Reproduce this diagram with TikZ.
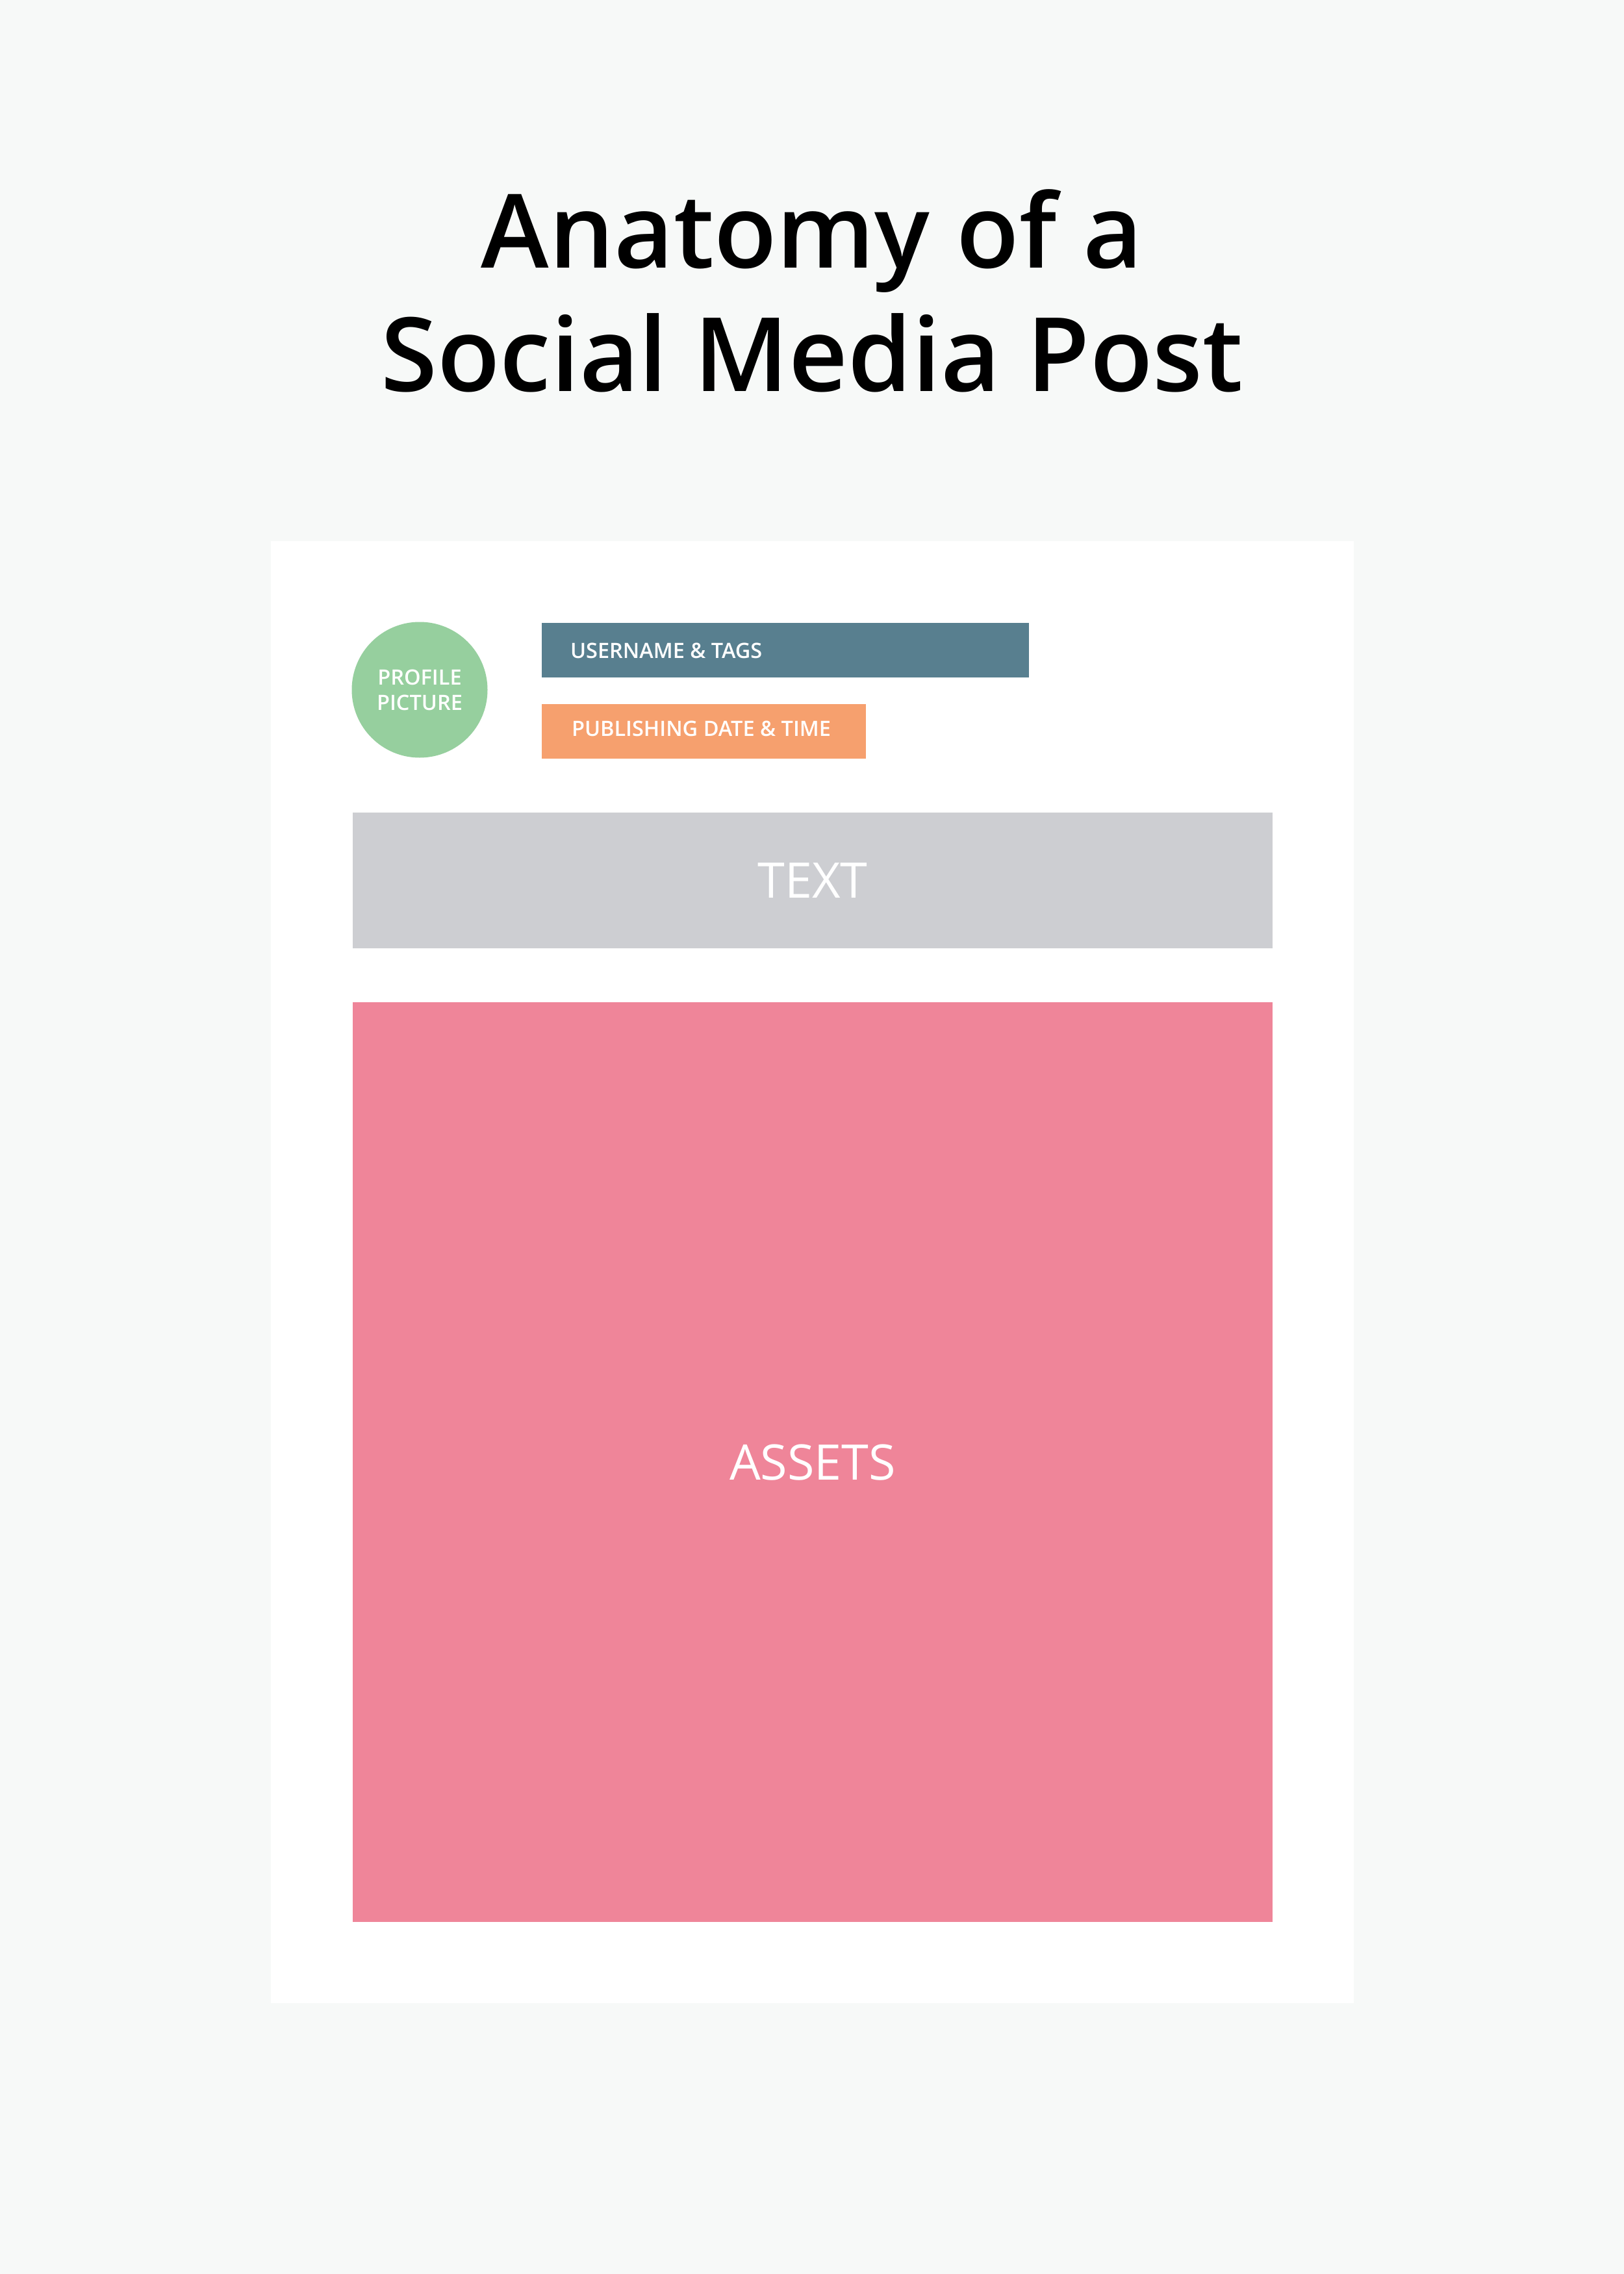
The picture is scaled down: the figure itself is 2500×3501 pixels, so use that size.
\documentclass[tikz,border=0pt]{standalone}
\usepackage{fontspec}
\setmainfont{Open Sans}
\IfFontExistsTF{Open Sans SemiBold}{\newfontfamily\semifont{Open Sans SemiBold}}{%
  \IfFontExistsTF{Open Sans Semibold}{\newfontfamily\semifont{Open Sans Semibold}}{%
    \newfontfamily\semifont{Open Sans}[FakeBold=1.2]}}
\usepackage{xcolor}
\usepackage{tikz}
\usetikzlibrary{positioning}

\definecolor{pagebg}{HTML}{F7F9F8}
\definecolor{avatargreen}{HTML}{96CF9E}
\definecolor{userblue}{HTML}{587F8F}
\definecolor{dateorange}{HTML}{F6A06E}
\definecolor{textgray}{HTML}{CDCED2}
\definecolor{assetpink}{HTML}{EF8599}

\begin{document}
\begin{tikzpicture}[x=0.2pt,y=-0.2pt,
    block/.style={fill=#1, draw=none, inner sep=0pt, anchor=north west, text=white},
    smalltext/.style={text=white, inner sep=0pt, font=\semifont\fontsize{6.5pt}{7.8pt}\selectfont},
    bigtext/.style={font=\fontsize{15.1pt}{18pt}\selectfont},
    titletext/.style={inner sep=0pt, anchor=base, font=\semifont\fontsize{31.6pt}{38pt}\selectfont}]
                        % page and card
                        \fill[pagebg] (0,0) rectangle (2500,3501);
                        \useasboundingbox (0,0) rectangle (2500,3501);
                        \fill[white] (417,833) rectangle (2084,3084);
                        % title
                        \node[titletext] (titletop) at (1250,413) {Anatomy of a};
                        \node[titletext] (titlebottom) at (1250,603) {Social Media Post};
                        % header of the post
                        \node[circle, fill=avatargreen, minimum size=41.8pt, inner sep=0pt, align=center,
                              smalltext] (avatar) at (646,1062) {PROFILE\\PICTURE};
                        \node[block=userblue, minimum width=150pt, minimum height=16.8pt] (user) at (833,958) {};
                        \node[block=dateorange, minimum width=99.8pt, minimum height=16.8pt] (date) at (833,1083) {};
                        \node[smalltext, anchor=base west] (userlabel) at (877,1013) {USERNAME \& TAGS};
                        \node[smalltext, anchor=base west] (datelabel) at (879,1133) {PUBLISHING DATE \& TIME};
                        % body of the post
                        \node[block=textgray, minimum width=283.2pt, minimum height=41.8pt, bigtext] (body) at (542,1250) {TEXT};
                        \node[block=assetpink, minimum width=283.2pt, minimum height=283.2pt, bigtext] (assets) at (542,1542) {ASSETS};
                        \end{tikzpicture}
\end{document}
